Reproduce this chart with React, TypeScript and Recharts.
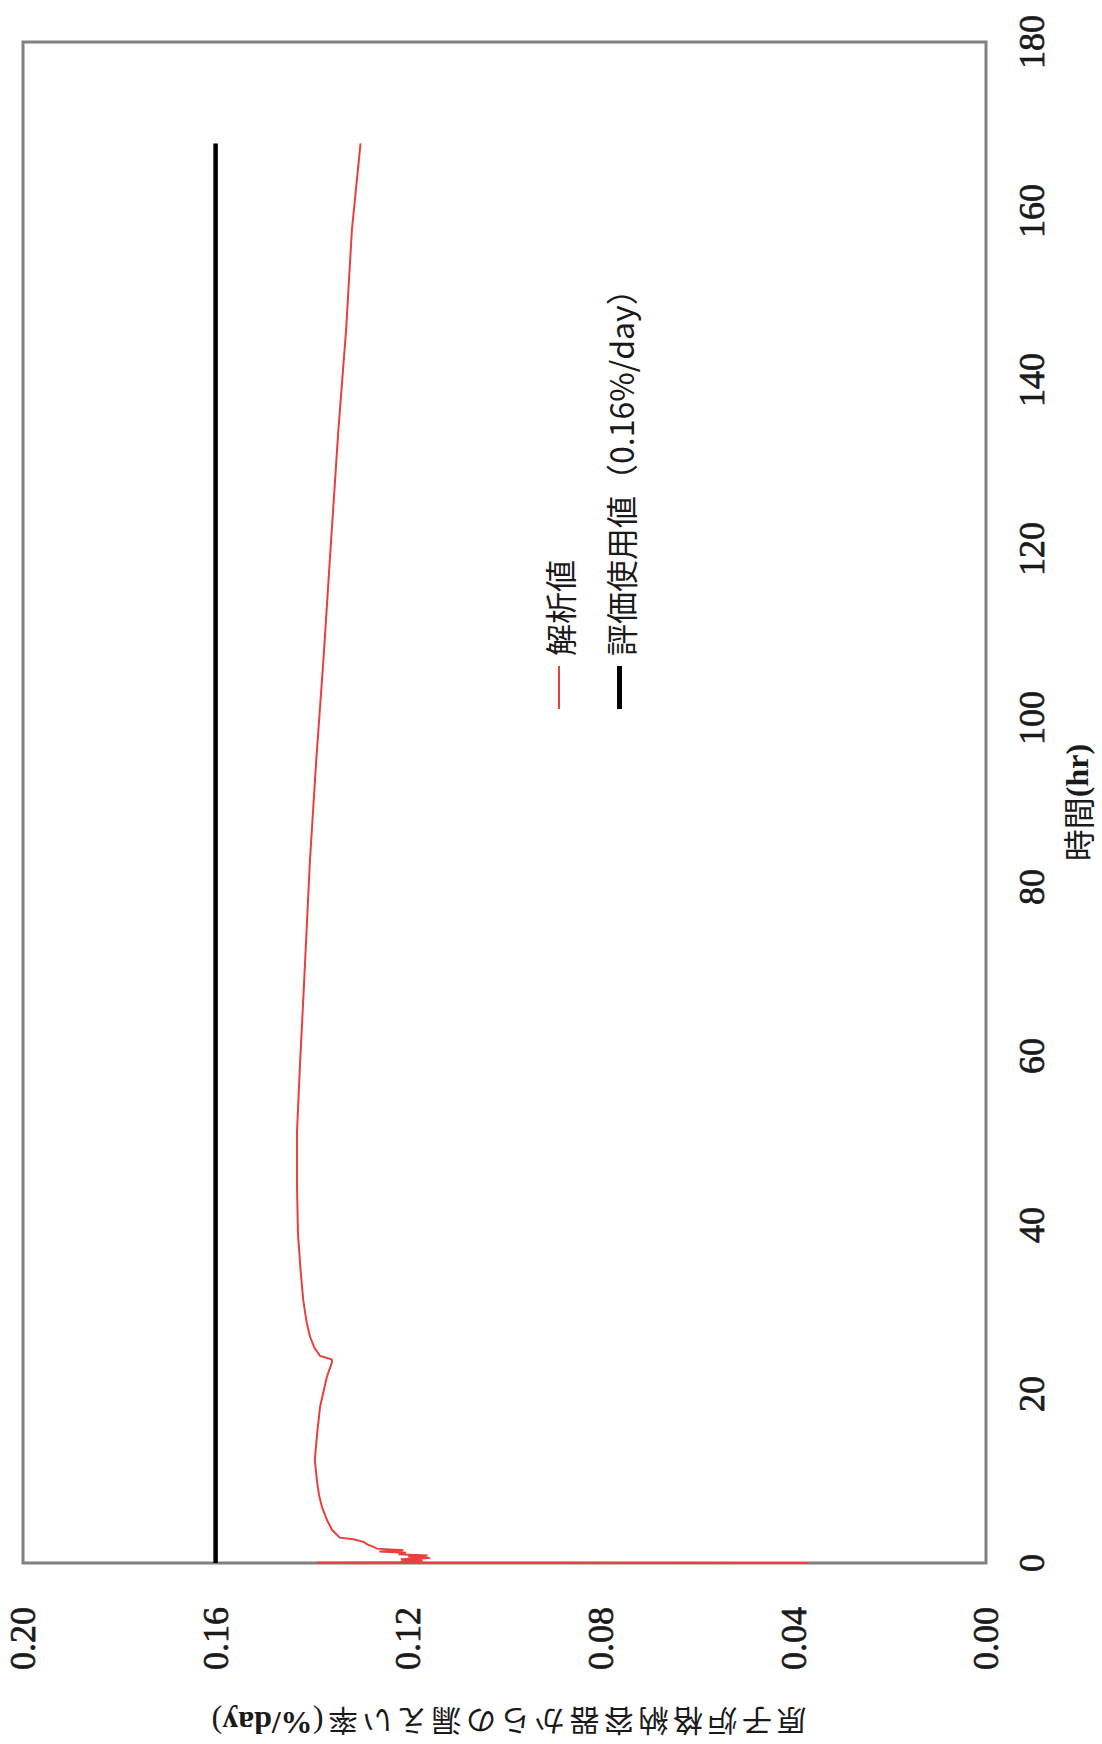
import React from 'react';
import { LineChart, Line, XAxis, YAxis, ReferenceArea, Legend, Label } from 'recharts';

// ---- data ----
const timeTicks = [0, 20, 40, 60, 80, 100, 120, 140, 160, 180];
const rateTicks = [0, 0.04, 0.08, 0.12, 0.16, 0.2];

const seriesNames = ['解析値', '評価使用値（0.16%/day）'];

const analysisTime = [
  0, 0.03, 0.1, 0.2, 0.3, 0.45, 0.6, 0.75, 0.9, 1.05, 1.2, 1.35, 1.5, 1.7, 1.9, 2.2, 2.5, 2.8, 3.0,
  3.9, 5.0, 6.6, 8.0, 9.5, 12.2, 15.4, 18.5, 22.0, 23.8, 24.1, 24.5, 25.5, 26.8, 28.5, 31.1, 35.0,
  39.1, 45.0, 50.9, 58.7, 66.6, 83.2, 95.0, 106.9, 118.5, 134.1, 145.9, 157.7, 168.0,
];
const analysisRate = [
  0.037, 0.139, 0.118, 0.1215, 0.117, 0.1215, 0.1155, 0.12, 0.116, 0.122, 0.1205, 0.126, 0.121,
  0.1265, 0.1272, 0.1285, 0.1293, 0.1314, 0.1342, 0.1358, 0.1368, 0.1379, 0.1385, 0.1389, 0.1394,
  0.1389, 0.1383, 0.1369, 0.1358, 0.1359, 0.1383, 0.1395, 0.1404, 0.1411, 0.1418, 0.1424, 0.1429,
  0.1431, 0.1431, 0.1425, 0.1418, 0.1404, 0.1391, 0.1376, 0.1363, 0.1345, 0.1329, 0.1317, 0.1299,
];

const evalTime = [0, 168];
const evalRate = [0.16, 0.16];

const analysisData = analysisTime.map((t, i) => ({ t, v: analysisRate[i] }));
const evalData = evalTime.map((t, i) => ({ t, v: evalRate[i] }));

// ---- layout (chart drawn in its own orientation, then turned a quarter left) ----
const CW = 1744;
const CH = 1102;

const TICK_FONT = 'Liberation Serif';
const TICK_SIZE = 36;
const TEXT_COLOR = '#1a1a1a';

const XTick = (props: any) => {
  const { x, y, payload } = props;
  return (
    <text
      x={x}
      y={y}
      dy="0.71em"
      textAnchor="middle"
      fontFamily={TICK_FONT}
      fontSize={TICK_SIZE}
      fill={TEXT_COLOR}
      stroke={TEXT_COLOR}
      strokeWidth={0.7}
    >
      {String(payload.value)}
    </text>
  );
};

const YTick = (props: any) => {
  const { x, y, payload } = props;
  return (
    <text
      x={x}
      y={y}
      dy="0.34em"
      textAnchor="end"
      fontFamily={TICK_FONT}
      fontSize={TICK_SIZE}
      fill={TEXT_COLOR}
      stroke={TEXT_COLOR}
      strokeWidth={0.7}
    >
      {Number(payload.value).toFixed(2)}
    </text>
  );
};

const XTitle = (props: any) => {
  const { x, y, width } = props.viewBox;
  return (
    <text
      x={x + width / 2}
      y={y + 91}
      textAnchor="middle"
      dominantBaseline="central"
      fontSize={32}
      fill={TEXT_COLOR}
      fontFamily="Noto Sans CJK JP"
    >
      時間
      <tspan fontFamily="Liberation Serif" fontWeight="bold">(hr)</tspan>
    </text>
  );
};

const YTitle = (props: any) => {
  const { x, y } = props.viewBox;
  const cx = x + 21;
  const cy = y + 486;
  return (
    <text
      x={cx}
      y={cy}
      transform={`rotate(-90 ${cx} ${cy})`}
      textAnchor="middle"
      dominantBaseline="central"
      fontSize={30}
      fill={TEXT_COLOR}
      fontFamily="Noto Sans CJK JP"
    >
      <tspan letterSpacing={4.5}>原子炉格納容器からの漏えい率</tspan>
      <tspan fontFamily="Liberation Serif" fontSize={32}>(</tspan>
      <tspan fontFamily="Liberation Serif" fontWeight="bold" fontSize={32}>%/day</tspan>
      <tspan fontFamily="Liberation Serif" fontSize={32}>)</tspan>
    </text>
  );
};

const LegendContent = (props: any) => {
  const payload = props.payload || [];
  return (
    <div style={{ display: 'flex', flexDirection: 'column' }}>
      {payload.map((entry: any, i: number) => (
        <div key={i} style={{ display: 'flex', alignItems: 'center', height: 61 }}>
          <span
            style={{
              display: 'inline-block',
              width: 43,
              height: i === 0 ? 2 : 5,
              background: entry.color,
            }}
          />
          <span
            style={{
              marginLeft: 10,
              fontFamily: 'Noto Sans CJK JP',
              fontSize: 32,
              color: TEXT_COLOR,
              whiteSpace: 'nowrap',
            }}
          >
            {entry.value}
          </span>
        </div>
      ))}
    </div>
  );
};

export default function App() {
  return (
    <div
      style={{
        position: 'absolute',
        left: 0,
        top: 0,
        width: CH,
        height: CW,
        overflow: 'hidden',
        background: '#ffffff',
      }}
    >
      <div
        style={{
          position: 'absolute',
          left: 0,
          top: 0,
          width: CW,
          height: CH,
          transformOrigin: '0 0',
          transform: `translate(0px, ${CW}px) rotate(-90deg)`,
        }}
      >
        <LineChart width={CW} height={CH} margin={{ top: 23, right: 42, bottom: 0, left: 0 }}>
          <XAxis
            type="number"
            dataKey="t"
            domain={[0, 180]}
            ticks={timeTicks}
            interval={0}
            height={116}
            axisLine={false}
            tickLine={false}
            tickSize={0}
            tickMargin={32}
            tick={<XTick />}
          >
            <Label content={XTitle} />
          </XAxis>
          <YAxis
            type="number"
            dataKey="v"
            domain={[0, 0.2]}
            ticks={rateTicks}
            interval={0}
            width={181}
            axisLine={false}
            tickLine={false}
            tickSize={0}
            tickMargin={44}
            tick={<YTick />}
          >
            <Label content={YTitle} />
          </YAxis>
          <ReferenceArea
            x1={0}
            x2={180}
            y1={0}
            y2={0.2}
            fill="none"
            fillOpacity={0}
            stroke="#808080"
            strokeWidth={3}
          />
          <Line
            data={analysisData}
            dataKey="v"
            name={seriesNames[0]}
            stroke="#e8403c"
            strokeWidth={2}
            dot={false}
            activeDot={false}
            type="linear"
            isAnimationActive={false}
          />
          <Line
            data={evalData}
            dataKey="v"
            name={seriesNames[1]}
            stroke="#000000"
            strokeWidth={4.5}
            dot={false}
            activeDot={false}
            type="linear"
            isAnimationActive={false}
          />
          <Legend
            layout="vertical"
            align="center"
            verticalAlign="middle"
            content={LegendContent}
            wrapperStyle={{ left: 1035, top: 528, width: 520 }}
          />
        </LineChart>
      </div>
    </div>
  );
}
